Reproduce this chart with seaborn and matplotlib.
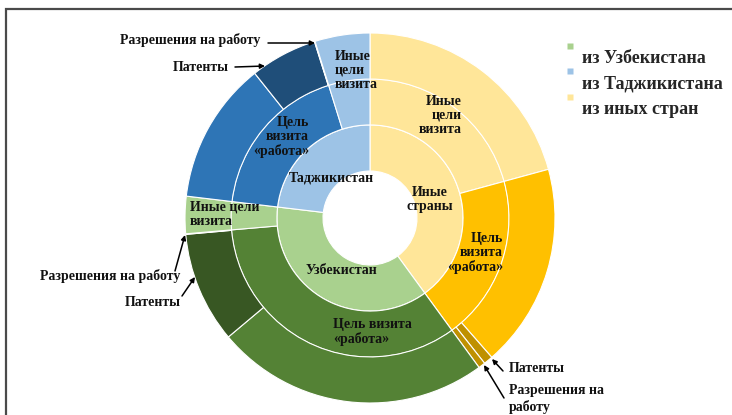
import matplotlib
matplotlib.use("Agg")
import matplotlib.pyplot as plt
import seaborn as sns
import pandas as pd
from matplotlib.lines import Line2D
from matplotlib.patches import Rectangle
from matplotlib.legend_handler import HandlerLine2D

# ---------------- data ----------------
countries = ["Иные страны", "Узбекистан", "Таджикистан"]
country_labels = ["Иные\nстраны", "Узбекистан", "Таджикистан"]
legend_labels = ["из Узбекистана", "из Таджикистана", "из иных стран"]

seg_country = ["Иные страны"] * 4 + ["Узбекистан"] * 4 + ["Таджикистан"] * 4
seg_purpose = ["Иные цели визита", "Цель визита «работа»", "Цель визита «работа»", "Цель визита «работа»",
               "Цель визита «работа»", "Цель визита «работа»", "Цель визита «работа»", "Иные цели визита",
               "Цель визита «работа»", "Цель визита «работа»", "Цель визита «работа»", "Иные цели визита"]
seg_doc = ["", "", "Патенты", "Разрешения на работу",
           "", "Патенты", "Разрешения на работу", "",
           "", "Патенты", "Разрешения на работу", ""]
seg_value = [20.75, 17.8, 0.8, 0.6,
             23.9, 9.7, 0.05, 3.25,
             12.4, 5.85, 0.05, 4.8]

# ---------------- colours ----------------
pal = {
    "Иные страны": {"base": "#FFE699", "work": "#FFC000", "doc": "#BF9000"},
    "Узбекистан": {"base": "#A9D18E", "work": "#548235", "doc": "#385723"},
    "Таджикистан": {"base": "#9DC3E6", "work": "#2E75B6", "doc": "#1F4E79"},
}

df = pd.DataFrame({"country": seg_country, "purpose": seg_purpose,
                   "doc": seg_doc, "value": seg_value})
inner = df.groupby("country", sort=False)["value"].sum().reindex(countries)
middle = df.groupby(["country", "purpose"], sort=False)["value"].sum()

def color_of(c, p=None, d=None):
    if p is None or "работа" not in p:
        return pal[c]["base"]
    if d:
        return pal[c]["doc"]
    return pal[c]["work"]

inner_colors = [color_of(c) for c in inner.index]
middle_colors = [color_of(c, p) for c, p in middle.index]
outer_colors = [color_of(c, p, d) for c, p, d in zip(seg_country, seg_purpose, seg_doc)]

# ---------------- figure ----------------
sns.set_theme(style="white")
plt.rcParams["font.family"] = ["Liberation Serif", "DejaVu Serif"]
plt.rcParams["font.weight"] = "bold"

W, H = 732, 415
CX, CY, R = 370, 218, 185
fig = plt.figure(figsize=(W / 100, H / 100), dpi=100)
ax = fig.add_axes([0, 0, 1, 1])

ring_w = 0.249
wp = dict(width=ring_w, edgecolor="white", linewidth=0.8)
ax.pie(inner.values, radius=0.503, startangle=90, counterclock=False,
       colors=inner_colors, wedgeprops=wp)
ax.pie(middle.values, radius=0.752, startangle=90, counterclock=False,
       colors=middle_colors, wedgeprops=wp)
ax.pie(df["value"].values, radius=1.0, startangle=90, counterclock=False,
       colors=outer_colors, wedgeprops=wp)

ax.axis("off")
ax.set_xlim(-CX / R, (W - CX) / R)
ax.set_ylim(-(H - CY) / R, CY / R)
ax.set_aspect("equal")


def px(x, y):
    return ((x - CX) / R, (CY - y) / R)

fs = 10
def lab(text, x, y, ha="center"):
    ax.text(*px(x, y), text, ha=ha, va="center", fontsize=fs,
            fontweight="bold", color="#111111", linespacing=1.1)

# ring labels
lab("Иные\nцели\nвизита", 462, 115, ha="right")
lab(country_labels[0], 430, 199)
lab("Цель\nвизита\n«работа»", 503, 253, ha="right")
lab(country_labels[1], 341, 270)
lab("Цель визита\n«работа»", 333, 332, ha="left")
lab("Иные цели\nвизита", 190, 214, ha="left")
lab(country_labels[2], 331, 178)
lab("Цель\nвизита\n«работа»", 309, 137, ha="right")
lab("Иные\nцели\nвизита", 335, 70, ha="left")

# annotations with arrows
ap = dict(arrowstyle="-|>", color="black", lw=1.1, mutation_scale=7,
          shrinkA=0, shrinkB=0)
def ann(text, xy, xytext_line, textpos, ha="left"):
    ax.text(*px(*textpos), text, ha=ha, va="center", fontsize=fs,
            fontweight="bold", color="#111111", linespacing=1.2)
    ax.annotate("", xy=px(*xy), xytext=px(*xytext_line), arrowprops=ap)

ann("Разрешения на работу", (315, 43), (268, 43), (120, 40))
ann("Патенты", (265, 66), (235, 67), (173, 67))
ann("Разрешения на работу", (185, 235), (175, 271), (40, 276))
ann("Патенты", (195, 277), (182, 296), (125, 303))
ann("Патенты", (492, 359), (503, 371), (509, 368))
ann("Разрешения на\nработу", (484, 365), (504, 398), (509, 399))


# legend (markers sit a little above their text, as in the source)
class RaisedMarker(HandlerLine2D):
    def create_artists(self, legend, orig_handle, xdescent, ydescent,
                       width, height, fontsize, trans):
        return super().create_artists(legend, orig_handle, xdescent,
                                      ydescent - 16, width, height,
                                      fontsize, trans)

handles = [Line2D([0], [0], marker="s", linestyle="none", markersize=4,
                  markerfacecolor=pal[c]["base"], markeredgecolor="none")
           for c in ["Узбекистан", "Таджикистан", "Иные страны"]]
leg = fig.legend(handles, legend_labels, loc="upper left",
                 bbox_to_anchor=(566 / W, 1 - 50 / H), frameon=False,
                 prop={"family": "Liberation Serif", "weight": "bold", "size": 13},
                 handlelength=0.4, handletextpad=0.5, labelspacing=0.48,
                 borderaxespad=0, borderpad=0,
                 handler_map={Line2D: RaisedMarker()})

# outer frame (left and top visible)
fig.patches.append(Rectangle((6 / W, -0.1), 1.2, (H - 9) / H + 0.1,
                             transform=fig.transFigure, fill=False,
                             edgecolor="#4a4a4a", linewidth=1.6))

fig.savefig("out.png", dpi=100)
